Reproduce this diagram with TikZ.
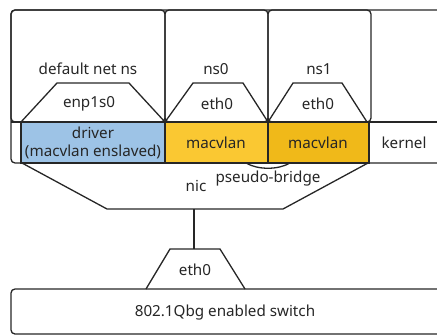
\documentclass[tikz,border=0pt]{standalone}
\usepackage{fontspec}
\setmainfont{Noto Sans}
\begin{document}
\begin{tikzpicture}[x=1pt,y=-1pt,line width=1.3pt,
  ln/.style={draw=black!85},
  lbl/.style={font=\fontsize{15.2}{17.5}\selectfont, text=black!85, inner sep=0pt},
  cell/.style={ln},
  rbox/.style={ln, rounded corners=4pt}]
\definecolor{drvblue}{RGB}{157,195,230}
\definecolor{mvyellowA}{RGB}{250,200,50}
\definecolor{mvyellowB}{RGB}{240,185,25}
\useasboundingbox (0,0) rectangle (437,335);
\clip (0,0) rectangle (437,335);
% kernel outer box
\draw[rbox] (11,10) rectangle (460,163);
% row cells
\filldraw[cell, fill=drvblue] (21,122) rectangle (165,163);
\filldraw[cell, fill=mvyellowA] (165,122) rectangle (268,163);
\filldraw[cell, fill=mvyellowB] (268,122) rectangle (369,163);
\draw[ln] (11,122) -- (460,122);
% namespace boxes
\draw[rbox] (11,10) rectangle (165,122);
\draw[rbox] (165,10) rectangle (268,122);
\draw[rbox] (268,10) rectangle (371,122);
% interface trapezoids
\draw[ln] (21,122) -- (57,83) -- (129,83) -- (165,122);
\draw[ln] (165,122) -- (193,83) -- (243,83) -- (268,122);
\draw[ln] (268,122) -- (293,83) -- (342,83) -- (367,122);
% pseudo-bridge arc
\draw[ln] (246,163) .. controls (258,170) and (278,170) .. (290,163);
% nic trapezoid
\draw[ln] (22,163) -- (107,209) -- (283,209) -- (368,163);
\coordinate (nicb) at (194,209);
\coordinate (etht) at (194,249);
\draw[ln] (nicb) -- (etht);
% eth0 trapezoid
\draw[ln] (146,289) -- (170,249) -- (220,249) -- (245,289);
% switch
\draw[rbox] (11,289) rectangle (460,334);
% labels
\node[lbl] (defns) at (88,69) {default net ns};
\node[lbl] (ns0) at (216,69) {ns0};
\node[lbl] (ns1) at (319,69) {ns1};
\node[lbl] (enp) at (89,104) {enp1s0};
\node[lbl] (eth0a) at (217,104) {eth0};
\node[lbl] (eth0b) at (318,104) {eth0};
\node[lbl, align=center] (drv) at (93,143) {driver\\(macvlan enslaved)};
\node[lbl] (mv0) at (216,143) {macvlan};
\node[lbl] (mv1) at (318,143) {macvlan};
\node[lbl] (kern) at (404,143) {kernel};
\node[lbl] (pb) at (268,179) {pseudo-bridge};
\node[lbl] (nic) at (196,186) {nic};
\node[lbl] (eth0c) at (195,270) {eth0};
\node[lbl] (sw) at (225,313) {802.1Qbg enabled switch};
\end{tikzpicture}
\end{document}
